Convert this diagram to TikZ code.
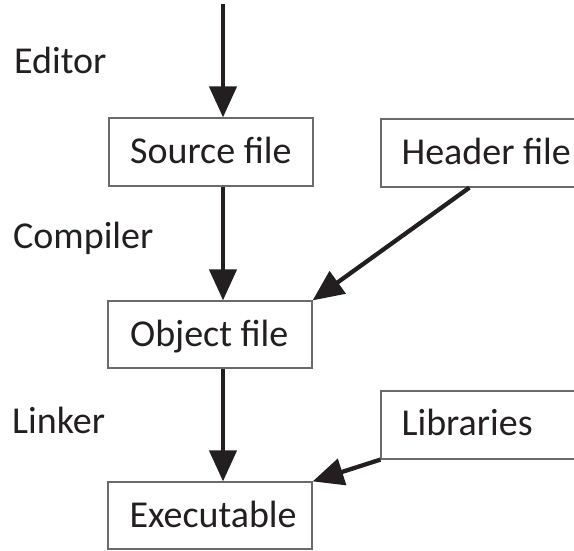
\documentclass[tikz,border=0pt]{standalone}
\usepackage{fontspec}
\setmainfont{Carlito}
\usetikzlibrary{arrows.meta}
\definecolor{ink}{HTML}{231F20}
\definecolor{frame}{HTML}{6A6A6A}
\begin{document}
\begin{tikzpicture}[x=1pt,y=-1pt,
  box/.style={draw=frame, line width=1.2pt, minimum width=204pt, minimum height=68pt, inner sep=0pt},
  wide/.style={box, minimum width=240pt},
  lbl/.style={font=\fontsize{38}{40}\selectfont, text=ink, inner sep=0pt, anchor=base west},
  flow/.style={draw=ink, line width=4.3pt, -{Triangle[length=31pt,width=27pt]}}]
\useasboundingbox (0,0) rectangle (574,550);
\clip (0,0) rectangle (574,550);

% stage names on the left
\node[lbl] (editor)   at (14,73)  {Editor};
\node[lbl] (compiler) at (13,248) {Compiler};
\node[lbl] (linker)   at (12,433) {Linker};

% file boxes
\node[box]  (src) at (211,152)   {};
\node[box, minimum height=67pt] (obj) at (210,334.5) {};
\node[box, minimum height=67pt] (exe) at (210,515.5) {};
\node[wide] (hdr) at (501,153)   {};
\node[wide] (lib) at (501,425)   {};

\node[lbl] (srct) at ([shift={(21.5,11.5)}]src.west) {Source file};
\node[lbl] (objt) at ([shift={(22.5,11.5)}]obj.west) {Object file};
\node[lbl] (exet) at ([shift={(22,11.5)}]exe.west) {Executable};
\node[lbl] (hdrt) at ([shift={(21,11.5)}]hdr.west) {Header file};
\node[lbl] (libt) at ([shift={(21,10.5)}]lib.west) {Libraries};

% build flow
\coordinate (entry) at (223,4);
\draw[flow] (entry) -- (entry |- src.north);
\draw[flow] (entry |- src.south) -- (entry |- obj.north);
\draw[flow] (entry |- obj.south) -- (entry |- exe.north);
\draw[flow] ([xshift=89pt]hdr.south west) -- (obj.north east);
\draw[flow] (lib.south west) -- (exe.north east);
\end{tikzpicture}
\end{document}
